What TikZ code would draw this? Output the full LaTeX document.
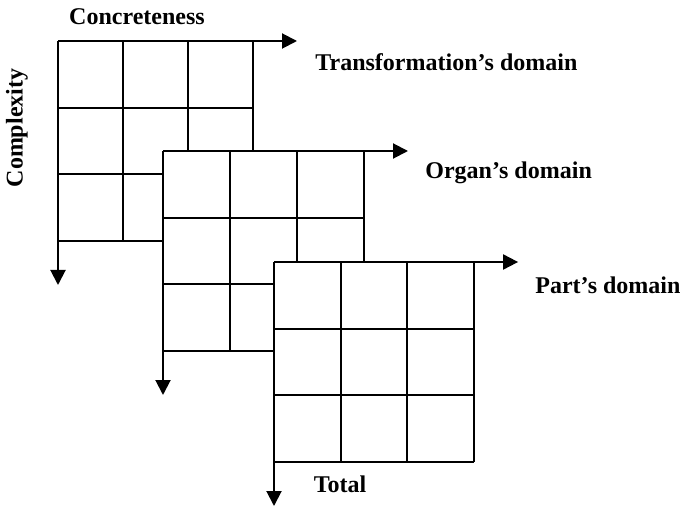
\documentclass[tikz,border=0pt]{standalone}
\usepackage{fontspec}
\setmainfont{Liberation Serif}
\usetikzlibrary{arrows.meta}

\begin{document}
\begin{tikzpicture}[x=0.5pt,y=-0.5pt,
    gridline/.style={line width=1pt},
    axis/.style={line width=1pt,-{Triangle[length=7.5pt,width=7.5pt]}},
    lbl/.style={font=\bfseries\fontsize{12}{14}\selectfont,inner sep=0pt}]
  \useasboundingbox (0,0) rectangle (684,507);
  % three domains, each a 3x3 grid laid over the previous one
  \foreach \dx/\dy/\cw/\dom in {58/41/65/trans,163/151/67/organ,274/262/66.7/part}
  {
    \begin{scope}[shift={(\dx,\dy)}]
      \fill[white] (0,0) rectangle (3*\cw+1,221);
      \foreach \i in {0,...,3}
      {
        \draw[gridline] (\i*\cw,0) -- (\i*\cw,200);
        \draw[gridline] (0,\i*66.7) -- (3*\cw,\i*66.7);
      }
      \coordinate (\dom-e) at (3*\cw+44,0);
      \coordinate (\dom-s) at (0,244);
      \draw[axis] (0,0) -- (\dom-e);
      \draw[axis] (0,0) -- (\dom-s);
    \end{scope}
  }
  \node[lbl] (concr) at (137,17) {Concreteness};
  \node[lbl,rotate=90] (compl) at (17,128) {Complexity};
  \node[lbl,anchor=west] (transl) at (315,62) {Transformation’s domain};
  \node[lbl,anchor=west] (organl) at (425,173) {Organ’s domain};
  \node[lbl,anchor=west] (partl) at (535,285) {Part’s domain};
  \node[lbl] (total) at (340,484) {Total};
\end{tikzpicture}
\end{document}
